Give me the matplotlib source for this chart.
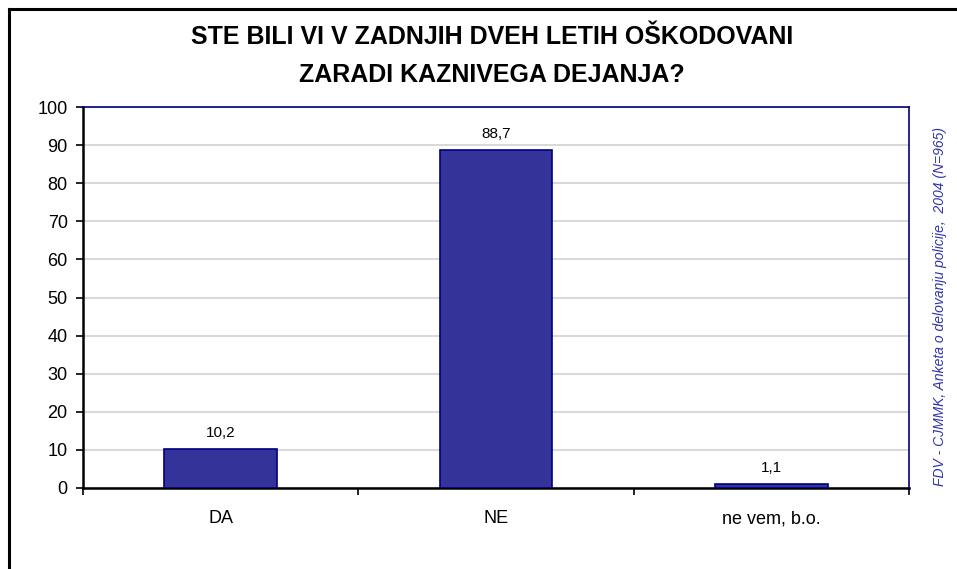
import numpy as np
import matplotlib.pyplot as plt

categories = ['DA', 'NE', 'ne vem, b.o.']
values = [10.2, 88.7, 1.1]
value_labels = ['10,2', '88,7', '1,1']
yticks = [0, 10, 20, 30, 40, 50, 60, 70, 80, 90, 100]

plt.rcParams['font.family'] = ['Liberation Sans', 'DejaVu Sans']

fig = plt.figure(figsize=(9.57, 5.69), dpi=100)
W, H = 957, 569
ax = fig.add_axes([83 / W, 1 - 488 / H, (909 - 83) / W, (488 - 107) / H])

x = np.arange(len(categories))
ax.bar(x, values, width=0.41, color='#333399', edgecolor='#000080', linewidth=1.2, zorder=3)
for xi, v, lab in zip(x, values, value_labels):
    ax.text(xi, v + 2.3, lab, ha='center', va='bottom', fontsize=11)

ax.set_xlim(-0.5, 2.5)
ax.set_ylim(0, 100)
ax.set_yticks(yticks)
ax.set_yticklabels([str(t) for t in yticks], fontsize=13)
ax.yaxis.grid(True, color='#d9d9d9', linewidth=1.5, zorder=0)
ax.set_axisbelow(True)

# category ticks sit between bars, labels centred under bars
ax.set_xticks([-0.5, 0.5, 1.5, 2.5])
ax.set_xticklabels([])
ax.set_xticks(x, minor=True)
ax.set_xticklabels(categories, minor=True, fontsize=13)
ax.tick_params(axis='x', which='minor', length=0, pad=16)
ax.tick_params(axis='x', which='major', length=5, width=1.2, direction='out')
ax.tick_params(axis='y', length=5, width=1.2, direction='out', pad=6)

ax.spines['left'].set_linewidth(1.8)
ax.spines['bottom'].set_linewidth(1.8)
ax.spines['top'].set_color('#000080')
ax.spines['right'].set_color('#000080')
ax.spines['top'].set_linewidth(1.2)
ax.spines['right'].set_linewidth(1.2)

fig.text(492 / W, 1 - 56 / H, 'STE BILI VI V ZADNJIH DVEH LETIH OŠKODOVANI\nZARADI KAZNIVEGA DEJANJA?',
         ha='center', va='center', fontsize=18, fontweight='bold', linespacing=1.7)

fig.text(940 / W, 1 - 307 / H, 'FDV - CJMMK, Anketa o delovanju policije,  2004 (N=965)',
         rotation=90, ha='center', va='center', fontsize=10, style='italic', color='#3333aa')

# outer frame (left and top edges visible)
fig.add_artist(plt.Line2D([9 / W, 9 / W], [0, 1 - 9 / H], color='black', linewidth=2.2,
                          transform=fig.transFigure))
fig.add_artist(plt.Line2D([9 / W, 1], [1 - 9 / H, 1 - 9 / H], color='black', linewidth=2.2,
                          transform=fig.transFigure))

fig.savefig('out.png', dpi=100)
